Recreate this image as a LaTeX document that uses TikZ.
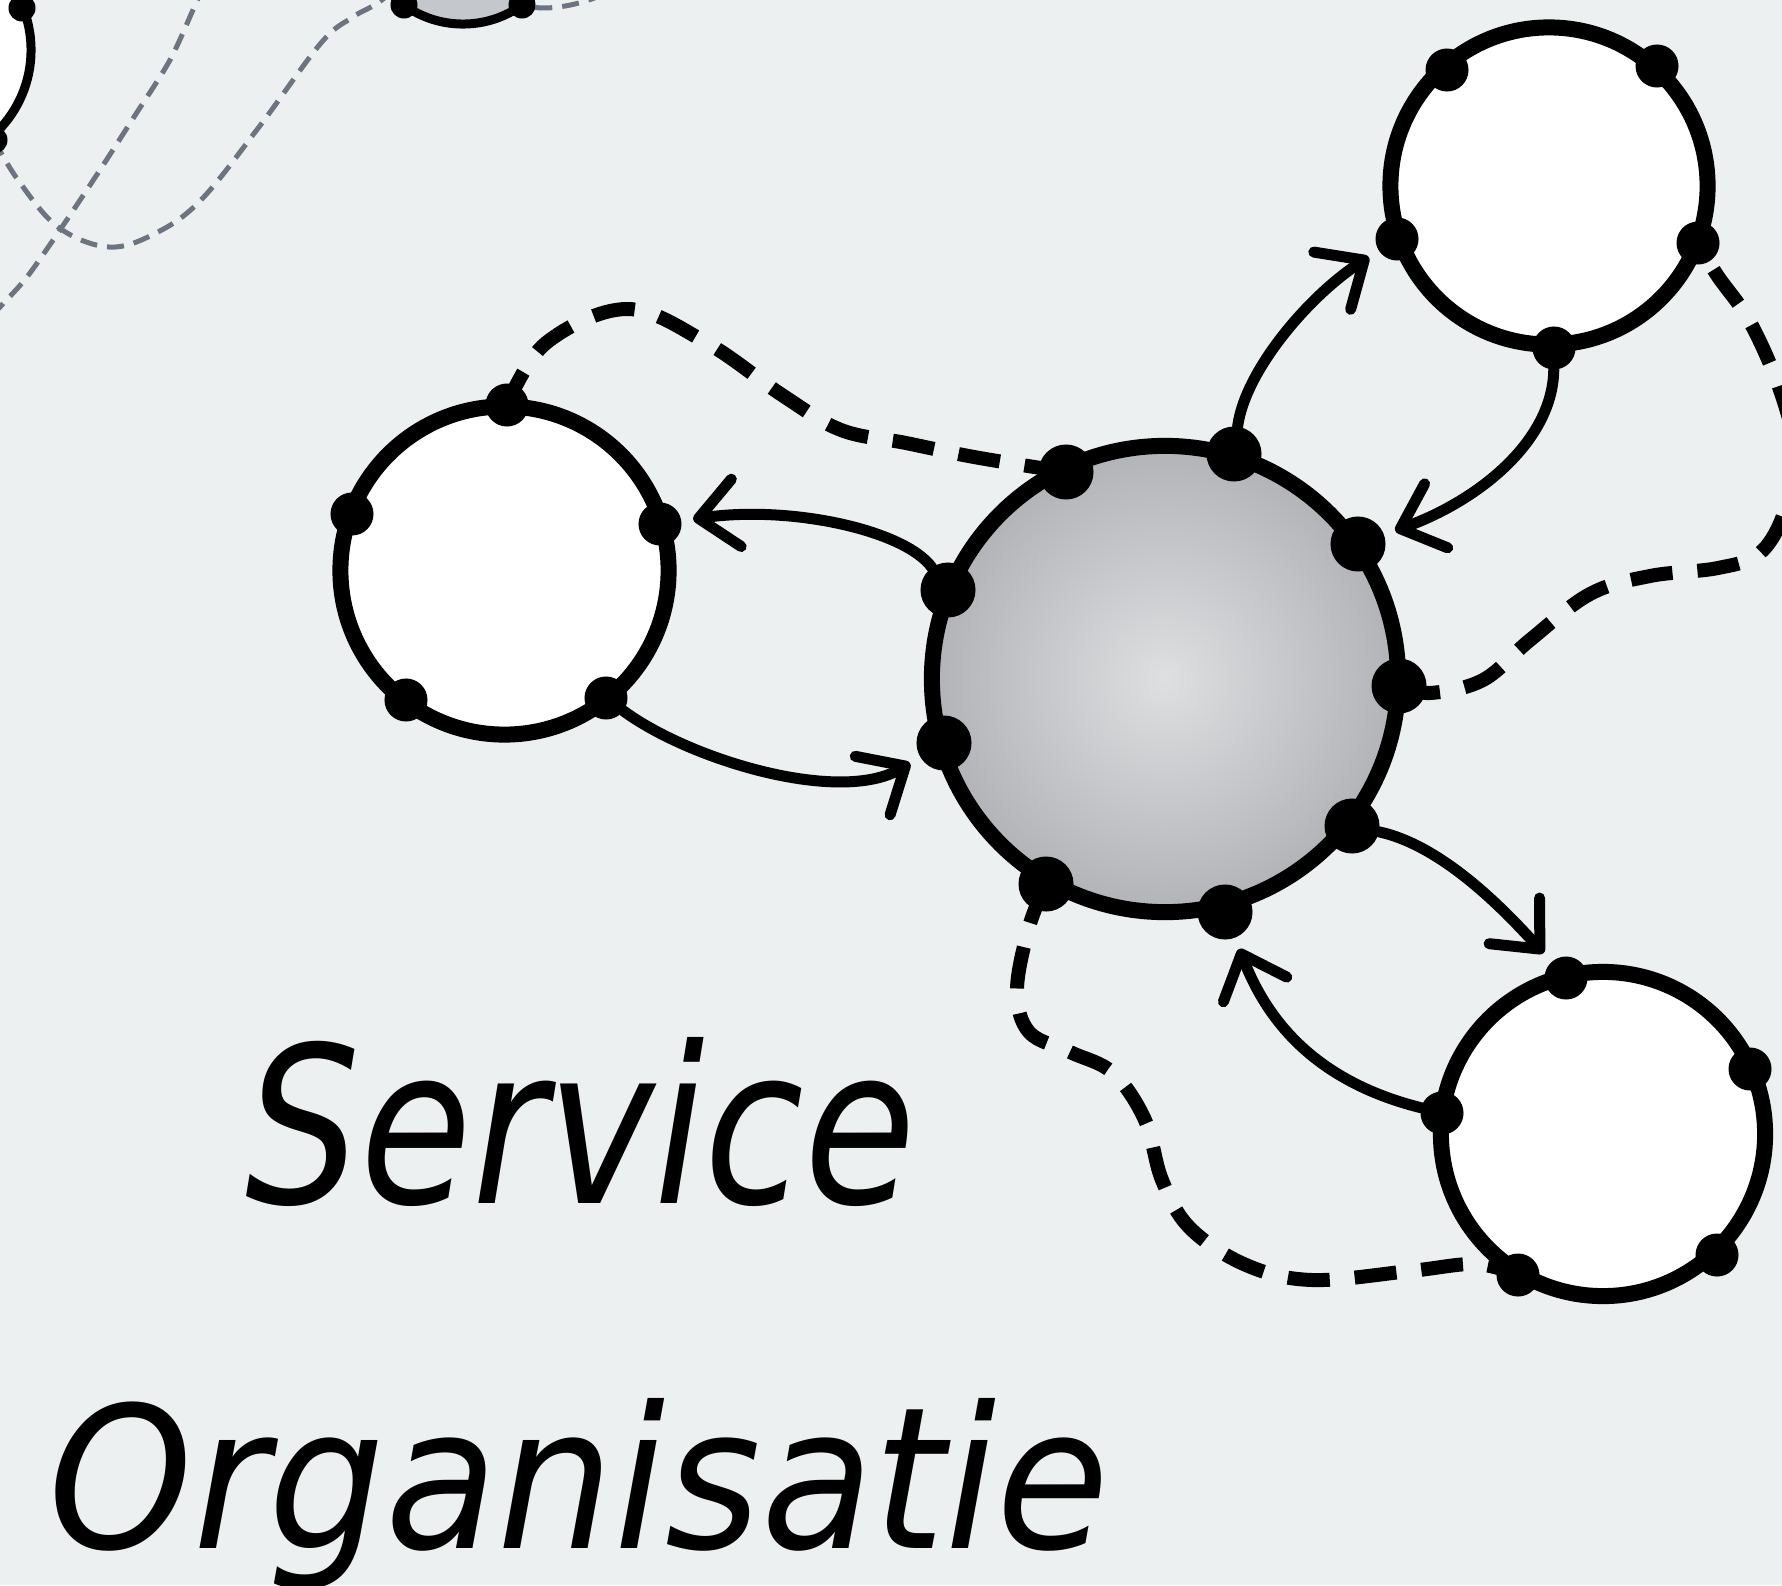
\documentclass[tikz,border=0pt]{standalone}
\usepackage{graphicx}
\usepackage{fontspec}
\newfontfamily\handfont{DejaVu Sans}
\usetikzlibrary{arrows.meta,calc}
\definecolor{bgc}{RGB}{236,240,241}
\definecolor{ballin}{RGB}{222,223,225}
\definecolor{ballout}{RGB}{178,179,182}
\definecolor{ghost}{RGB}{108,116,127}
\definecolor{ghostfill}{RGB}{196,199,203}
\pgfdeclarelayer{back}
\pgfdeclarelayer{mid}
\pgfsetlayers{back,mid,main}
\begin{document}
\begin{tikzpicture}[x=0.01cm,y=-0.01cm,
  ringnode/.style={circle, draw=black, line width=0.16cm, inner sep=0pt, outer sep=0pt},
  farring/.style={circle, draw=black, line width=0.09cm, inner sep=0pt, outer sep=0pt},
  cdot/.style={circle, fill=black, inner sep=0pt, outer sep=0pt, minimum size=0.55cm},
  wdot/.style={circle, fill=black, inner sep=0pt, outer sep=0pt, minimum size=0.43cm},
  gdot/.style={circle, fill=black, inner sep=0pt, outer sep=0pt, minimum size=0.27cm},
  flowarrow/.style={line width=0.11cm, line cap=round, -{Straight Barb[length=0.38cm,width=0.68cm,round]}, shorten >=0.12cm},
  dashlink/.style={line width=0.14cm, dash pattern=on 0.42cm off 0.25cm},
  ghostdash/.style={line width=0.05cm, draw=ghost, dash pattern=on 0.17cm off 0.1cm},
  wordlabel/.style={inner sep=0pt, anchor=base west, font=\handfont\itshape}
]
\useasboundingbox (0,0) rectangle (1782,1585);
\begin{pgfonlayer}{back}
\fill[bgc] (0,0) rectangle (1782,1585);
\end{pgfonlayer}

% background (far) circles
\node[farring, fill=white, minimum size=2.3cm] (BL) at (-84,50) {};
\node[gdot] (bl1) at (22,8) {};
\node[gdot] (bl2) at (-6,140) {};
\node[farring, fill=ghostfill, minimum size=2.02cm] (BG) at (463,-77) {};
\node[gdot] (bg1) at (404,5) {};
\node[gdot] (bg2) at (522,5) {};

% main circles
\node[ringnode, shading=radial, inner color=ballin, outer color=ballout, minimum size=4.66cm] (C) at (1165,679) {};
\node[ringnode, fill=white, minimum size=3.28cm] (L) at (504.5,570.5) {};
\node[ringnode, fill=white, minimum size=3.17cm] (TR) at (1549,186) {};
\node[ringnode, fill=white, minimum size=3.24cm] (BR) at (1603,1134) {};

% dots on central circle
\node[cdot] (c1) at (1066,472) {};
\node[cdot] (c2) at (1234,454) {};
\node[cdot] (c3) at (1358,544) {};
\node[cdot] (c4) at (1399,686) {};
\node[cdot] (c5) at (1352,826) {};
\node[cdot] (c6) at (1225,912) {};
\node[cdot] (c7) at (1046,884) {};
\node[cdot] (c8) at (944,743) {};
\node[cdot] (c9) at (948,590) {};
% dots on left circle
\node[wdot] (l1) at (507,405) {};
\node[wdot] (l2) at (352,514) {};
\node[wdot] (l3) at (660,524) {};
\node[wdot] (l4) at (406,700) {};
\node[wdot] (l5) at (606,698) {};
% dots on top-right circle
\node[wdot] (t1) at (1447,70) {};
\node[wdot] (t2) at (1657,66) {};
\node[wdot] (t3) at (1397,239) {};
\node[wdot] (t4) at (1698,243) {};
\node[wdot] (t5) at (1554,348) {};
% dots on bottom-right circle
\node[wdot] (b1) at (1566,978) {};
\node[wdot] (b2) at (1750,1069) {};
\node[wdot] (b3) at (1442,1113) {};
\node[wdot] (b4) at (1717,1255) {};
\node[wdot] (b5) at (1518,1275) {};

% free ends of background lines
\coordinate (g1end) at (420,-30);
\coordinate (g2top) at (215,-40);
\coordinate (g2bot) at (-30,340);
\coordinate (g3end) at (620,-15);

\begin{pgfonlayer}{mid}
% background dashed lines
\draw[ghostdash] plot[smooth, tension=0.6] coordinates {(bl2) (18,180) (58,227) (109,247) (156,233) (201,200) (259,127) (321,43) (353,17) (379,2) (g1end)};
\draw[ghostdash] plot[smooth, tension=0.5] coordinates {(g2top) (196,3) (170,60) (134,117) (98,173) (62,227) (27,277) (0,307) (g2bot)};
\draw[ghostdash] (bg2) .. controls (550,10) and (590,5) .. (g3end);

% solid arrows
\draw[flowarrow] (c9) .. controls (905,530) and (790,505) .. (l3);
\draw[flowarrow] (l5) .. controls (690,760) and (840,805) .. (c8);
\draw[flowarrow] (c2) .. controls (1245,370) and (1310,295) .. (t3);
\draw[flowarrow] (t5) .. controls (1553,440) and (1480,500) .. (c3);
\draw[flowarrow] (c5) .. controls (1440,845) and (1500,905) .. (b1);
\draw[flowarrow] (b3) .. controls (1310,1080) and (1265,1015) .. (c6);

% dashed links
\draw[dashlink] plot[smooth, tension=0.6] coordinates {(c1) (974,457) (906,443) (841,430) (782,395) (707,343) (627,309) (546,343) (l1)};
\draw[dashlink] plot[smooth, tension=0.6] coordinates {(c4) (1430,693) (1483,680) (1530,640) (1590,594) (1650,576) (1718,568) (1760,553) (1785,510) (1794,450) (1780,390) (1750,322) (1717,275) (t4)};
\draw[dashlink] plot[smooth, tension=0.6] coordinates {(c7) (1029,927) (1017,990) (1029,1032) (1070,1052) (1113,1073) (1145,1120) (1162,1180) (1190,1228) (1246,1265) (1312,1280) (1410,1271) (1476,1264) (b5)};
\end{pgfonlayer}

% texts
\node[wordlabel] (svc) at (245,1203) {\resizebox{6.7cm}{1.66cm}{Service}};
\node[wordlabel] (org) at (48,1548) {\resizebox{10.6cm}{1.5cm}{Organisatie}};
\end{tikzpicture}
\end{document}
